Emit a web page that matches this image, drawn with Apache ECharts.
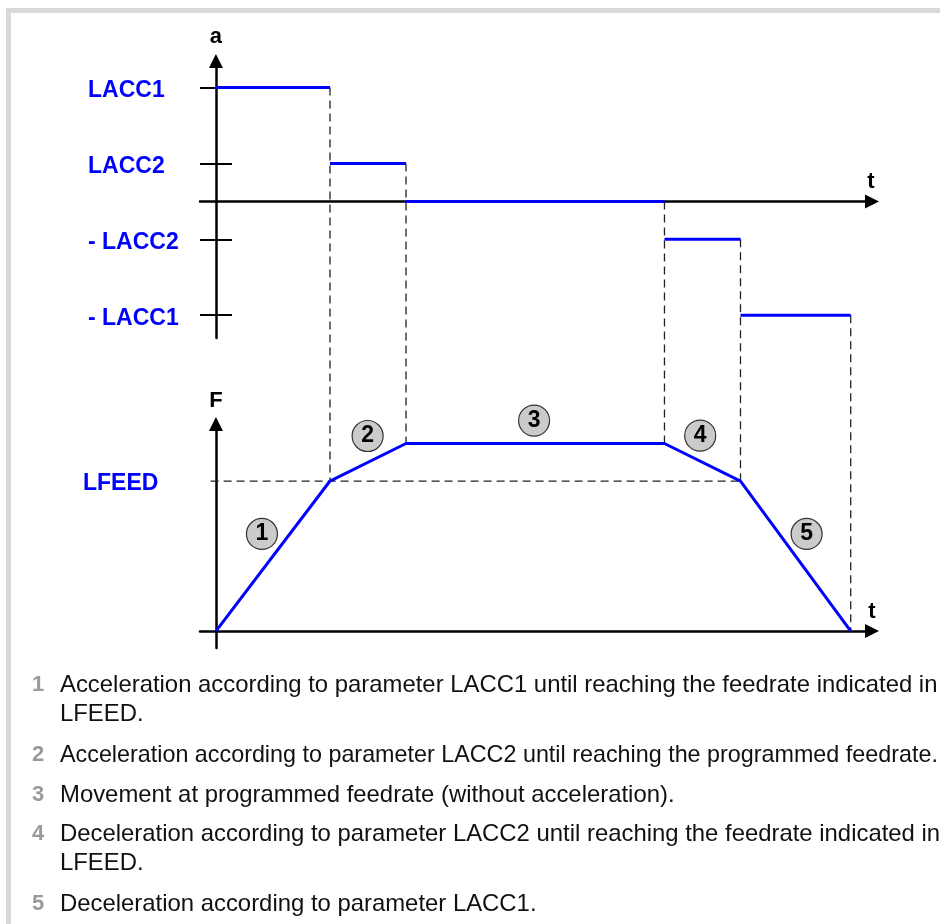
<!DOCTYPE html>
<html>
<head>
<meta charset="utf-8">
<script src="https://cdn.jsdelivr.net/npm/echarts@6/dist/echarts.min.js"></script>
<style>
html,body{margin:0;padding:0;background:#fff;}
#chart{width:940px;height:924px;}
</style>
</head>
<body>
<div id="chart"></div>
<script>
// ---------- data ----------
const timePoints = [0, 30, 50, 118, 138, 167];          // phase boundaries (t)
const accelValues = [3, 1, 0, -1, -3];                 // a in each phase
const feedValues = [0, 4, 5, 5, 4, 0];                 // F at each boundary
const accelTickValues = [3, 1, -1, -3];
const accelTickLabels = ['LACC1', 'LACC2', '- LACC2', '- LACC1'];
const feedTickValues = [4];
const feedTickLabels = ['LFEED'];
const lfeedGuide = [[-1.4, 4], [138, 4]];
const phaseLabels = ['1', '2', '3', '4', '5'];
const phaseMarkers = [[12.1, 2.59], [39.9, 5.2], [83.7, 5.61], [127.4, 5.21], [155.4, 2.59]];
const descNumbers = ['1', '2', '3', '4', '5'];
const descLines = [
  ['Acceleration according to parameter LACC1 until reaching the feedrate indicated in', 'LFEED.'],
  ['Acceleration according to parameter LACC2 until reaching the programmed feedrate.'],
  ['Movement at programmed feedrate (without acceleration).'],
  ['Deceleration according to parameter LACC2 until reaching the feedrate indicated in', 'LFEED.'],
  ['Deceleration according to parameter LACC1.']
];

// ---------- layout / style ----------
const FONT = "'Liberation Sans', Arial, Helvetica, sans-serif";
const BLUE = '#0000ff';
const itemY = [685, 755, 795, 834, 904];
const wrapGap = 29;
const lineScale = [0.995, 0.972, 0.995, 0.995, 0.995];

const chart = echarts.init(document.getElementById('chart'), null, {renderer: 'canvas'});

function xAxisDef(grid, padBottom, gap) {
  return {
    type: 'value', gridIndex: grid, min: -4.2, max: 172.6,
    axisLine: {onZero: true, symbol: ['none', 'triangle'], symbolSize: [14, 14],
      lineStyle: {color: '#000', width: 2.5}},
    axisTick: {show: false}, axisLabel: {show: false}, splitLine: {show: false},
    name: 't', nameLocation: 'end', nameGap: gap,
    nameTextStyle: {fontFamily: FONT, fontSize: 22, fontWeight: 'bold', color: '#000',
      align: 'center', verticalAlign: 'bottom', padding: [0, 0, padBottom, 0]}
  };
}

const labelRich = {l: {fontFamily: FONT, fontSize: 23, fontWeight: 'bold', color: BLUE, padding: [6, 0, 0, 0]}};

const option = {
  animation: false,
  backgroundColor: '#fff',
  grid: [
    {left: 200, top: 61, width: 672, height: 277},
    {left: 200, top: 424, width: 672, height: 224}
  ],
  xAxis: [xAxisDef(0, 8, -1), xAxisDef(1, 8, 0)],
  yAxis: [
    {
      type: 'value', gridIndex: 0, min: -3.6, max: 3.7,
      axisLine: {onZero: true, symbol: ['none', 'triangle'], symbolSize: [14, 14],
        lineStyle: {color: '#000', width: 2.5}},
      axisTick: {show: true, inside: true, length: 16, customValues: accelTickValues,
        lineStyle: {color: '#000', width: 2}},
      axisLabel: {customValues: accelTickValues, margin: 112, align: 'left', rich: labelRich,
        formatter: v => '{l|' + accelTickLabels[accelTickValues.indexOf(v)] + '}'},
      splitLine: {show: false},
      name: 'a', nameLocation: 'end', nameGap: 13,
      nameTextStyle: {fontFamily: FONT, fontSize: 22, fontWeight: 'bold', color: '#000'}
    },
    {
      type: 'value', gridIndex: 0, min: -3.6, max: 3.7, position: 'left',
      axisLine: {show: true, onZero: true, onZeroAxisIndex: 0, lineStyle: {color: '#000', opacity: 0, width: 0}},
      axisTick: {show: true, inside: false, length: 16, customValues: accelTickValues,
        lineStyle: {color: '#000', width: 2, opacity: 1}},
      axisLabel: {show: false}, splitLine: {show: false}
    },
    {
      type: 'value', gridIndex: 1, min: -0.45, max: 5.52,
      axisLine: {onZero: true, symbol: ['none', 'triangle'], symbolSize: [14, 14],
        lineStyle: {color: '#000', width: 2.5}},
      axisTick: {show: false},
      axisLabel: {customValues: feedTickValues, margin: 117, align: 'left', rich: labelRich,
        formatter: v => '{l|' + feedTickLabels[feedTickValues.indexOf(v)] + '}'},
      splitLine: {show: false},
      name: 'F', nameLocation: 'end', nameGap: 12,
      nameTextStyle: {fontFamily: FONT, fontSize: 22, fontWeight: 'bold', color: '#000'}
    }
  ],
  series: [
    {
      type: 'custom', xAxisIndex: 0, yAxisIndex: 0, z: 3, clip: false,
      data: accelValues.map((a, i) => [timePoints[i], timePoints[i + 1], a]),
      renderItem: function (params, api) {
        const p0 = api.coord([api.value(0), api.value(2)]);
        const p1 = api.coord([api.value(1), api.value(2)]);
        return {type: 'line', shape: {x1: p0[0], y1: p0[1], x2: p1[0], y2: p1[1]},
          style: {stroke: BLUE, lineWidth: 3}};
      }
    },
    {
      type: 'line', xAxisIndex: 1, yAxisIndex: 2, z: 1, clip: false, silent: true,
      data: lfeedGuide, symbol: 'none',
      lineStyle: {color: '#222', width: 1.3, type: [8, 5]}
    },
    {
      type: 'line', xAxisIndex: 1, yAxisIndex: 2, z: 3, clip: false,
      data: timePoints.map((t, i) => [t, feedValues[i]]), symbol: 'none',
      lineStyle: {color: BLUE, width: 3}
    },
    {
      type: 'scatter', xAxisIndex: 1, yAxisIndex: 2, z: 4, clip: false,
      data: phaseMarkers, symbolSize: 31,
      itemStyle: {color: '#cbcbcb', borderColor: '#333', borderWidth: 1.2, opacity: 1},
      label: {show: true, position: 'inside', formatter: p => phaseLabels[p.dataIndex],
        fontFamily: FONT, fontSize: 23, fontWeight: 'bold', color: '#000'}
    }
  ]
};

chart.setOption(option);

// ---------- graphic: frame, dashed connectors, description ----------
const graphics = [
  {type: 'rect', shape: {x: 6, y: 8, width: 934, height: 5}, style: {fill: '#d9d9d9'}, silent: true},
  {type: 'rect', shape: {x: 6, y: 8, width: 5, height: 916}, style: {fill: '#d9d9d9'}, silent: true}
];
for (let i = 1; i < timePoints.length; i++) {
  const p0 = chart.convertToPixel({gridIndex: 0}, [timePoints[i], accelValues[i - 1]]);
  const p1 = chart.convertToPixel({gridIndex: 1}, [timePoints[i], feedValues[i]]);
  graphics.push({type: 'line', z: 1, silent: true,
    shape: {x1: p0[0], y1: p0[1], x2: p1[0], y2: p1[1]},
    style: {stroke: '#222', lineWidth: 1.3, lineDash: [8, 5]}});
}
descLines.forEach((lines, k) => {
  graphics.push({type: 'text', x: 32, y: itemY[k], silent: true,
    style: {text: descNumbers[k], font: "bold 22px " + FONT, fill: '#9a9a9a',
      textAlign: 'left', textVerticalAlign: 'middle'}});
  lines.forEach((ln, j) => {
    graphics.push({type: 'text', x: 60, y: itemY[k] + j * wrapGap, scaleX: j === 0 ? lineScale[k] : 0.995, silent: true,
      style: {text: ln, font: "24px " + FONT, fill: '#111',
        textAlign: 'left', textVerticalAlign: 'middle'}});
  });
});
chart.setOption({graphic: graphics});
</script>
</body>
</html>
